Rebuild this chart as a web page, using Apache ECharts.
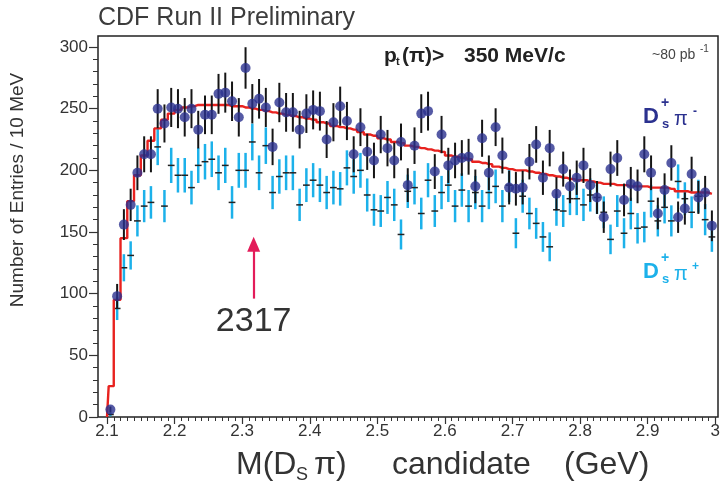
<!DOCTYPE html>
<html><head><meta charset="utf-8">
<script src="https://cdn.jsdelivr.net/npm/echarts@6/dist/echarts.min.js"></script>
<style>html,body{margin:0;padding:0;background:#fff}#c{width:723px;height:493px}</style>
</head><body><div id="c"></div>
<script>
// ---- data ----
const binCenters = [2.105,2.115,2.125,2.135,2.145,2.155,2.165,2.175,2.185,2.195,
  2.205,2.215,2.225,2.235,2.245,2.255,2.265,2.275,2.285,2.295,
  2.305,2.315,2.325,2.335,2.345,2.355,2.365,2.375,2.385,2.395,
  2.405,2.415,2.425,2.435,2.445,2.455,2.465,2.475,2.485,2.495,
  2.505,2.515,2.525,2.535,2.545,2.555,2.565,2.575,2.585,2.595,
  2.605,2.615,2.625,2.635,2.645,2.655,2.665,2.675,2.685,2.695,
  2.705,2.715,2.725,2.735,2.745,2.755,2.765,2.775,2.785,2.795,
  2.805,2.815,2.825,2.835,2.845,2.855,2.865,2.875,2.885,2.895,
  2.905,2.915,2.925,2.935,2.945,2.955,2.965,2.975,2.985,2.995];
const dsPiMinus = [6,98,156,172,198,213,213,250,238,251,
  250,243,250,233,245,245,262,263,256,243,
  283,254,258,251,219,255,247,247,233,246,
  249,248,225,239,252,240,213,235,215,208,
  229,218,208,223,188,220,246,248,199,229,
  204,208,210,211,187,226,198,235,212,186,
  185,186,207,221,194,218,181,201,187,194,
  204,188,178,162,201,210,176,189,187,213,
  198,165,184,206,162,169,197,178,182,155];
const dsPiPlus = [2,88,121,131,159,171,174,219,171,204,
  196,196,186,204,207,209,198,204,174,200,
  200,223,198,220,182,195,198,198,172,188,
  192,188,182,186,185,202,195,200,180,168,
  167,178,172,148,183,186,165,192,167,182,
  188,171,184,171,182,171,182,187,171,188,
  149,179,165,157,146,138,168,167,177,177,
  172,180,178,166,144,167,149,165,153,154,
  175,159,170,159,191,177,166,179,160,146];
const fitThreshold = [2.1, 0];
const fitCurve = [25,95,145,175,196,212,224,234,241,246,
  249,251,252,253,253,253,253,253,252,252,
  251,250,249,248,247,246,245,244,243,242,
  241,239,238,236,235,234,233,231,229,228,
  226,225,223,222,220,219,218,217,216,215,
  212,211,210,209,207,206,205,203,202,201,
  200,200,199,198,197,196,195,194,193,192,
  192,191,190,189,189,188,188,187,187,187,
  186,186,186,185,183,183,182,182,182,181];
const xTickLabels = ['2.1','2.2','2.3','2.4','2.5','2.6','2.7','2.8','2.9','3'];
const yTickLabels = ['0','50','100','150','200','250','300'];
const arrowMass = 2.317;
const arrowSpan = [96, 140];
const halfBin = 0.005;

// ---- chart ----
const FF = '"Liberation Sans", Arial, Helvetica, sans-serif';
const chart = echarts.init(document.getElementById('c'), null, {renderer:'canvas'});
const minusPts = binCenters.map((x,i)=>[x, dsPiMinus[i]]);
const plusPts = binCenters.map((x,i)=>[x, dsPiPlus[i]]);
const fitPts = [fitThreshold].concat(binCenters.map((x,i)=>[x, fitCurve[i]]));

function errRender(color, width, dashColor){
  return function(params, api){
    const x = api.value(0), y = api.value(1), e = Math.sqrt(y);
    const p1 = api.coord([x, y+e]), p2 = api.coord([x, Math.max(0, y-e)]);
    const ch = [{type:'line', shape:{x1:p1[0],y1:p1[1],x2:p2[0],y2:p2[1]}, style:{stroke:color, lineWidth:width}}];
    if (dashColor){
      const a = api.coord([x-halfBin, y]), b = api.coord([x+halfBin, y]);
      ch.push({type:'line', shape:{x1:a[0],y1:a[1],x2:b[0],y2:b[1]}, style:{stroke:dashColor, lineWidth:1.5}});
    }
    return {type:'group', children:ch};
  };
}
function txt(x, y, text, size, color, weight, extra){
  return Object.assign({type:'text', x:x, y:y, silent:true,
    style:{text:text, fontSize:size, fontFamily:FF, fontWeight:weight||'normal', fill:color,
      align:'left', verticalAlign:'middle', textAlign:'left', textVerticalAlign:'middle'}}, extra||{});
}
const dark = '#2b318f', light = '#1cb1ea';

chart.setOption({
  animation:false,
  backgroundColor:'#fff',
  grid:[
    {left:98, right:5, top:36, bottom:76, show:true, borderColor:'#222', borderWidth:1.5, backgroundColor:'transparent'},
    {left:107, right:7, top:47, bottom:76}
  ],
  xAxis:[
    {gridIndex:0, type:'value', min:2.0867, max:3.003, show:false},
    {gridIndex:1, type:'value', min:2.1, max:3.0, interval:0.1,
      axisLine:{show:false}, splitLine:{show:false},
      axisTick:{show:true, length:7, lineStyle:{color:'#333', width:1.2}},
      minorTick:{show:true, splitNumber:10, length:4, lineStyle:{color:'#333', width:1}},
      axisLabel:{margin:6, fontSize:17, color:'#333', fontFamily:FF,
        formatter:v=>xTickLabels[Math.round((v-2.1)*10)] || ''}}
  ],
  yAxis:[
    {gridIndex:0, type:'value', min:0, max:308, show:false},
    {gridIndex:1, type:'value', min:0, max:300, interval:50, offset:9,
      axisLine:{show:false}, splitLine:{show:false},
      axisTick:{show:true, length:9, lineStyle:{color:'#333', width:1.2}},
      minorTick:{show:true, splitNumber:5, length:5, lineStyle:{color:'#333', width:1}},
      axisLabel:{margin:10, fontSize:17, color:'#333', fontFamily:FF,
        formatter:v=>yTickLabels[Math.round(v/50)] || ''}}
  ],
  series:[
    {type:'custom', xAxisIndex:1, yAxisIndex:1, data:plusPts, renderItem:errRender(light, 2.5, '#222'), z:2, silent:true},
    {type:'line', xAxisIndex:1, yAxisIndex:1, data:fitPts, step:'middle', showSymbol:false, symbol:'none',
      lineStyle:{color:'#e8221f', width:2.4}, z:3, silent:true,
      markLine:{silent:true, symbol:['none','triangle'], symbolSize:[13,15], animation:false,
        lineStyle:{color:'#e31c5a', width:2.2, type:'solid'},
        label:{show:true, position:'start', formatter:'2317', fontSize:34, color:'#333', fontFamily:FF, distance:6},
        data:[[{coord:[arrowMass, arrowSpan[0]]},{coord:[arrowMass, arrowSpan[1]]}]]}},
    {type:'custom', xAxisIndex:1, yAxisIndex:1, data:minusPts, renderItem:errRender('#151515', 2), z:4, silent:true},
    {type:'scatter', xAxisIndex:1, yAxisIndex:1, data:minusPts, symbol:'circle', symbolSize:10,
      itemStyle:{color:dark}, z:5, silent:true}
  ],
  graphic:[
    txt(98, 18, 'CDF Run II Preliminary', 25, '#3c3c3c'),
    txt(18, 190, 'Number of Entries / 10 MeV', 19, '#333', 'normal', {rotation:Math.PI/2, style:{text:'Number of Entries / 10 MeV', fontSize:19, fontFamily:FF, fill:'#333', align:'center', verticalAlign:'middle', textAlign:'center', textVerticalAlign:'middle'}}),
    txt(384, 56, 'p', 21, '#222', 'bold'),
    txt(396, 62, 't', 11, '#222', 'bold'),
    txt(402, 56, '(π)>', 21, '#222', 'bold'),
    txt(464, 56, '350 MeV/c', 21, '#222', 'bold'),
    txt(652, 55, '~80 pb', 14, '#444'),
    txt(700, 49, '-1', 10, '#444'),
    // D_s^+ pi^- label
    txt(643, 117, 'D', 22, dark, 'bold'),
    txt(661, 103, '+', 14, dark, 'bold'),
    txt(662, 124, 's', 13, dark, 'bold'),
    txt(674, 119, 'π', 20, dark),
    txt(693, 112, '-', 12, dark, 'bold'),
    // D_s^+ pi^+ label
    txt(643, 272, 'D', 22, light, 'bold'),
    txt(661, 258, '+', 14, light, 'bold'),
    txt(662, 279, 's', 13, light, 'bold'),
    txt(674, 274, 'π', 20, light),
    txt(692, 267, '+', 12, light, 'bold'),
    // x-axis title
    txt(236, 465, 'M(D', 32, '#333'),
    txt(296, 475, 'S', 18, '#333'),
    txt(314, 465, 'π)', 32, '#333'),
    txt(392, 465, 'candidate', 32, '#333'),
    txt(564, 465, '(GeV)', 32, '#333')
  ]
});
</script></body></html>
